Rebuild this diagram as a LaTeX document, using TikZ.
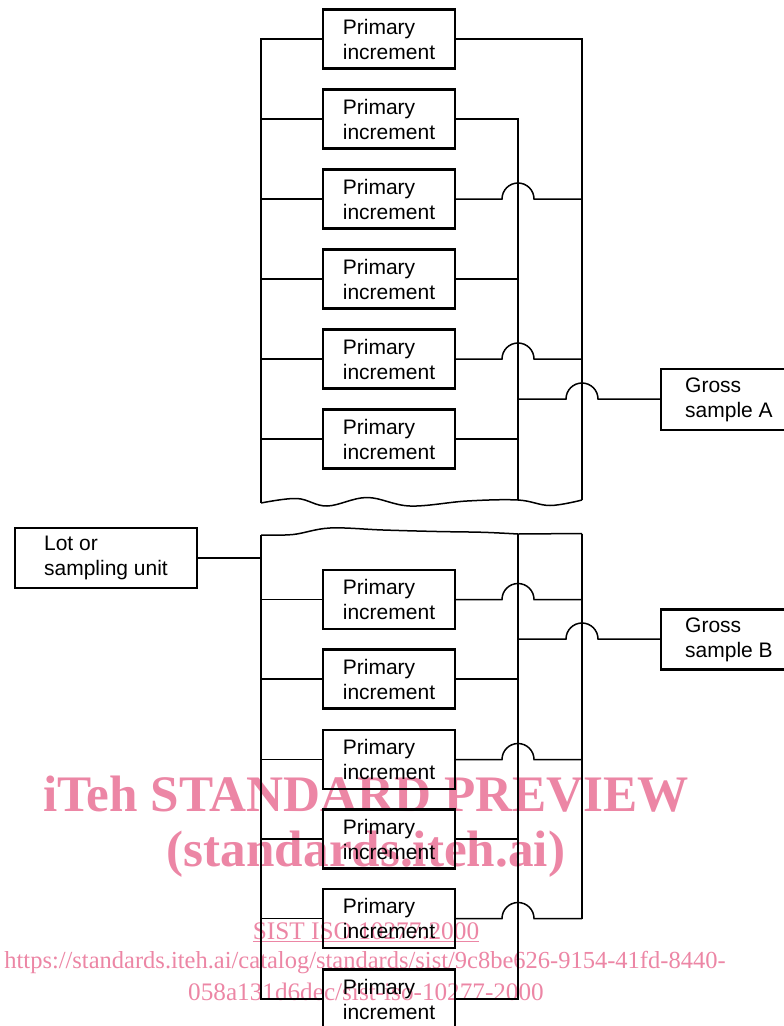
\documentclass[tikz,border=0pt]{standalone}
\usepackage{fontspec}
\setmainfont{Liberation Sans}
\newfontfamily\wmfont{Liberation Serif}
\usetikzlibrary{calc}
\definecolor{wmpink}{RGB}{236,134,165}
\begin{document}
\begin{tikzpicture}[x=1pt,y=1pt,
  box/.style={draw,line width=2.1pt,minimum width=132pt,minimum height=59pt,align=left,inner sep=0pt,font=\fontsize{21}{25}\selectfont},
  wire/.style={line width=1.5pt},
  wmbig/.style={text=wmpink,font=\wmfont\bfseries\fontsize{51.2}{56}\selectfont,anchor=base,inner sep=0pt},
  wmsmall/.style={text=wmpink,font=\wmfont\fontsize{24.5}{28}\selectfont,anchor=base,inner sep=0pt}]

\useasboundingbox (0,0) rectangle (784,-1026);

% watermark
\node[wmbig] (w1) at (366,-811) {iTeh STANDARD PREVIEW};
\node[wmbig] (w2) at (366,-866) {(standards.iteh.ai)};
\node[wmsmall,font=\wmfont\fontsize{25.3}{28}\selectfont] (w3) at (366,-939) {\underline{SIST ISO 10277:2000}};
\node[wmsmall] (w4) at (365,-968) {https://standards.iteh.ai/catalog/standards/sist/9c8be626-9154-41fd-8440-};
\node[wmsmall,font=\wmfont\fontsize{25.2}{28}\selectfont] (w5) at (366,-1000) {058a131d6dec/sist-iso-10277-2000};

% nodes
\foreach \i/\y in {1/39,2/119,3/199,4/279,5/359,6/439,7/599.5,8/679,9/759.5,10/839,11/918.5,12/999}
  \node[box] (p\i) at (389,-\y) {Primary\\increment};
\node[box,minimum width=182pt,minimum height=60pt] (lot) at (106,-558) {Lot or\\sampling unit};
\node[box,minimum width=136pt,minimum height=61pt] (gA) at (729,-399.5) {Gross\\sample A};
\node[box,minimum width=136pt,minimum height=60pt] (gB) at (729,-639.5) {Gross\\sample B};

% bus coordinates
\coordinate (Lbot) at (261,-503);
\coordinate (Mbot) at (518,-500);
\coordinate (Rbot) at (582,-500);
\coordinate (Ltop2) at (261,-535);
\coordinate (Mtop2) at (518,-534);
\coordinate (Rtop2) at (582,-533.5);
\coordinate (jA) at (518,-399);
\coordinate (jB) at (518,-639);

% upper block
\draw[wire] (p1.west) -| (Lbot);
\foreach \i in {2,...,6} \draw[wire] (p\i.west) -- (p\i.west -| Lbot);
\draw[wire] (p1.east) -| (Rbot);
\draw[wire] (p2.east) -| (Mbot);
\foreach \i in {4,6} \draw[wire] (p\i.east) -- (p\i.east -| Mbot);
\foreach \i in {3,5}
  \draw[wire] (p\i.east) -- ($(p\i.east -| Mbot)+(-16,0)$) arc[start angle=180,end angle=0,radius=16pt] -- (p\i.east -| Rbot);
\draw[wire] (jA) -- ($(jA -| Rbot)+(-16,0)$) arc[start angle=180,end angle=0,radius=16pt] -- (jA -| gA.west);
\draw[wire] plot[smooth,tension=0.6] coordinates {(261,-503) (297,-498.5) (327,-506) (367,-497.5) (410,-506) (467,-501) (518,-500) (550,-505.5) (582,-500)};

% lower block
\draw[wire] plot[smooth,tension=0.6] coordinates {(261,-535) (293,-534.5) (330,-528) (383,-530) (437,-531.5) (483,-532.3) (518,-534)} -- (Rtop2);
\draw[wire] (lot.east) -- (lot.east -| Ltop2);
\draw[wire] (Ltop2) |- (p12.west);
\foreach \i in {7,...,11} \draw[wire] (p\i.west) -- (p\i.west -| Ltop2);
\draw[wire] (Mtop2) |- (p12.east);
\draw[wire] (Rtop2) -- (p11.east -| Rtop2);
\foreach \i in {8,10} \draw[wire] (p\i.east) -- (p\i.east -| Mtop2);
\foreach \i in {7,9,11}
  \draw[wire] (p\i.east) -- ($(p\i.east -| Mtop2)+(-16,0)$) arc[start angle=180,end angle=0,radius=16pt] -- (p\i.east -| Rtop2);
\draw[wire] (jB) -- ($(jB -| Rtop2)+(-16,0)$) arc[start angle=180,end angle=0,radius=16pt] -- (jB -| gB.west);
\end{tikzpicture}
\end{document}
